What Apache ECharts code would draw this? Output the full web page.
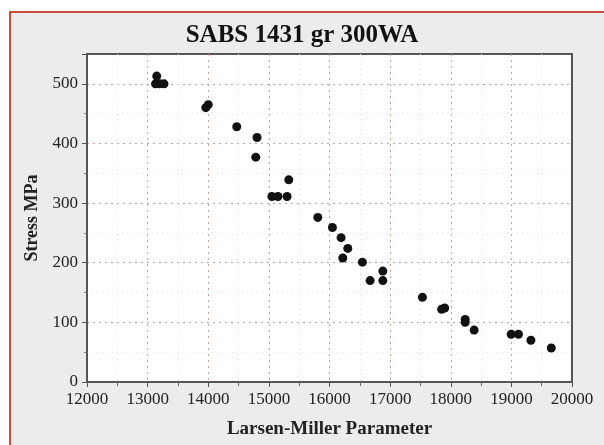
<!DOCTYPE html>
<html>
<head>
<meta charset="utf-8">
<script src="https://cdn.jsdelivr.net/npm/echarts@6/dist/echarts.min.js"></script>
<style>
  html, body { margin: 0; padding: 0; background: #fff; }
  #chart { width: 604px; height: 445px; }
</style>
</head>
<body>
<div id="chart"></div>
<script>
// Larsen-Miller parameter (x) and stress in MPa (y)
var lmp = [13150, 13130, 13200, 13270, 13960, 14000, 14470, 14805, 14784, 15328,
           15050, 15150, 15300, 15807, 16048, 16191, 16302, 16219, 16543, 16670,
           16880, 16880, 17533, 17850, 17900, 18238, 18238, 18386, 18997, 19117,
           19322, 19658];
var stress = [513, 500, 500, 500, 460, 465, 428, 410, 377, 339,
              311, 311, 311, 276, 259, 242, 224, 208, 201, 170,
              186, 170, 142, 122, 124, 105, 100, 87, 80, 80,
              70, 57];

var chartTitle = 'SABS 1431 gr 300WA';
var xName = 'Larsen-Miller Parameter';
var yName = 'Stress MPa';

var points = lmp.map(function (x, i) { return [x, stress[i]]; });

var serif = '"Liberation Serif", "DejaVu Serif", serif';
var gridLine = {
    show: true,
    showMinLine: false,
    showMaxLine: false,
    lineStyle: { color: '#c4a49c', type: [2, 4], width: 1 }
};
var minorGrid = { show: true, lineStyle: { color: '#eee0dc', type: [1, 4] } };

var myChart = echarts.init(document.getElementById('chart'));

var option = {
    backgroundColor: '#fff',
    animation: false,
    graphic: [{
        type: 'rect',
        z: -10,
        shape: { x: 10, y: 12, width: 600, height: 440 },
        style: { fill: '#ececec', stroke: '#cf4a3e', lineWidth: 2 }
    }],
    title: {
        text: chartTitle,
        left: 'center',
        top: 18,
        textStyle: { fontFamily: serif, fontSize: 25, fontWeight: 'bold', color: '#111' }
    },
    grid: {
        left: 87, right: 32, top: 54, bottom: 63,
        show: true,
        backgroundColor: '#fff',
        borderColor: '#555',
        borderWidth: 2
    },
    xAxis: {
        type: 'value',
        min: 12000,
        max: 20000,
        interval: 1000,
        name: xName,
        nameLocation: 'middle',
        nameGap: 38,
        nameTextStyle: { fontFamily: serif, fontSize: 19, fontWeight: 'bold', color: '#222' },
        axisLine: { show: true, lineStyle: { color: '#555', width: 2 } },
        axisTick: { show: true, length: 5, lineStyle: { color: '#555' } },
        minorTick: { show: true, splitNumber: 2, length: 4, lineStyle: { color: '#666' } },
        axisLabel: {
            margin: 9, fontFamily: serif, fontSize: 17, color: '#222',
            formatter: function (v) { return String(v); }
        },
        splitLine: gridLine,
        minorSplitLine: minorGrid
    },
    yAxis: {
        type: 'value',
        min: 0,
        max: 550,
        interval: 100,
        name: yName,
        nameLocation: 'middle',
        nameGap: 46,
        nameTextStyle: { fontFamily: serif, fontSize: 18, fontWeight: 'bold', color: '#222' },
        axisLine: { show: true, lineStyle: { color: '#555', width: 2 } },
        axisTick: { show: true, length: 5, lineStyle: { color: '#555' } },
        minorTick: { show: true, splitNumber: 2, length: 3, lineStyle: { color: '#777' } },
        axisLabel: {
            margin: 9, fontFamily: serif, fontSize: 17, color: '#222',
            showMaxLabel: false
        },
        splitLine: gridLine,
        minorSplitLine: minorGrid
    },
    series: [{
        type: 'scatter',
        data: points,
        symbol: 'circle',
        symbolSize: 9,
        itemStyle: { color: '#111', opacity: 1 }
    }]
};
myChart.setOption(option);
</script>
</body>
</html>
